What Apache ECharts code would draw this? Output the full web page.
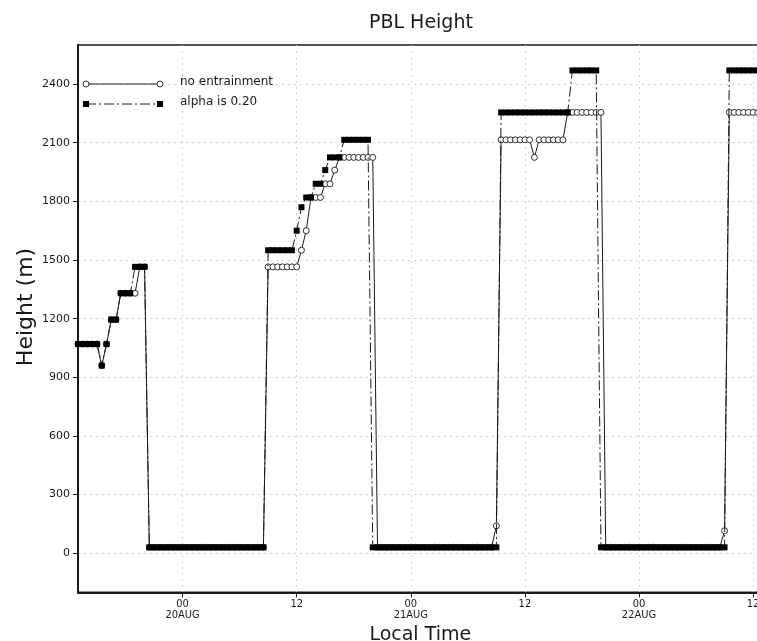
<!DOCTYPE html>
<html><head><meta charset="utf-8">
<script src="https://cdn.jsdelivr.net/npm/echarts@6/dist/echarts.min.js"></script>
<style>html,body{margin:0;padding:0;background:#fff}#c{width:757px;height:641px}</style>
</head><body><div id="c"></div>
<script>
// Local time in hours relative to 20AUG 00
const timeHours = [
  -11,-10.5,-10,-9.5,-9,-8.5,-8,-7.5,-7,-6.5,-6,-5.5,-5,-4.5,-4,-3.5,-3,-2.5,-2,-1.5,-1,-0.5,
  0,0.5,1,1.5,2,2.5,3,3.5,4,4.5,5,5.5,6,6.5,7,7.5,8,8.5,9,9.5,10,10.5,11,11.5,
  12,12.5,13,13.5,14,14.5,15,15.5,16,16.5,17,17.5,18,18.5,19,19.5,20,20.5,21,21.5,22,22.5,23,23.5,
  24,24.5,25,25.5,26,26.5,27,27.5,28,28.5,29,29.5,30,30.5,31,31.5,32,32.5,33,33.5,34,34.5,35,35.5,
  36,36.5,37,37.5,38,38.5,39,39.5,40,40.5,41,41.5,42,42.5,43,43.5,44,44.5,45,45.5,46,46.5,47,47.5,
  48,48.5,49,49.5,50,50.5,51,51.5,52,52.5,53,53.5,54,54.5,55,55.5,56,56.5,57,57.5,58,58.5,59,59.5,
  60,60.5
];
const noEntrainment = [
  1070,1070,1070,1070,1070,960,1070,1195,1195,1330,1330,1330,1330,1465,1465,30,30,30,30,30,30,30,
  30,30,30,30,30,30,30,30,30,30,30,30,30,30,30,30,30,30,1465,1465,1465,1465,1465,1465,
  1465,1550,1650,1820,1820,1820,1890,1890,1960,2025,2025,2025,2025,2025,2025,2025,2025,30,30,30,30,30,30,30,
  30,30,30,30,30,30,30,30,30,30,30,30,30,30,30,30,30,30,140,2115,2115,2115,2115,2115,
  2115,2115,2025,2115,2115,2115,2115,2115,2115,2255,2255,2255,2255,2255,2255,2255,2255,30,30,30,30,30,30,30,
  30,30,30,30,30,30,30,30,30,30,30,30,30,30,30,30,30,30,115,2255,2255,2255,2255,2255,
  2255,2255
];
const alpha020 = [
  1070,1070,1070,1070,1070,960,1070,1195,1195,1330,1330,1330,1465,1465,1465,30,30,30,30,30,30,30,
  30,30,30,30,30,30,30,30,30,30,30,30,30,30,30,30,30,30,1550,1550,1550,1550,1550,1550,
  1650,1770,1820,1820,1890,1890,1960,2025,2025,2025,2115,2115,2115,2115,2115,2115,30,30,30,30,30,30,30,30,
  30,30,30,30,30,30,30,30,30,30,30,30,30,30,30,30,30,30,30,2255,2255,2255,2255,2255,
  2255,2255,2255,2255,2255,2255,2255,2255,2255,2255,2470,2470,2470,2470,2470,2470,30,30,30,30,30,30,30,30,
  30,30,30,30,30,30,30,30,30,30,30,30,30,30,30,30,30,30,30,2470,2470,2470,2470,2470,
  2470,2470
];
const seriesNames = ['no entrainment', 'alpha is 0.20'];
const xTickValues = [0, 12, 24, 36, 48, 60];
const xTickLabels = ['00\n20AUG', '12', '00\n21AUG', '12', '00\n22AUG', '12'];
const yTickValues = [0, 300, 600, 900, 1200, 1500, 1800, 2100, 2400];
const yAxisTitle = 'Height (m)';

const FONT = 'DejaVu Sans';
const INK = '#1a1a1a';
const chart = echarts.init(document.getElementById('c'), null, {renderer: 'canvas'});
const pairs = (vals) => timeHours.map((t, i) => [t, vals[i]]);

chart.setOption({
  animation: false,
  backgroundColor: '#fff',
  title: {
    text: 'PBL Height', left: 364, top: 9,
    textStyle: {fontFamily: FONT, fontSize: 19, fontWeight: 'normal', color: INK}
  },
  grid: {left: 78, top: 45, width: 684.6, height: 547.3, show: true, borderColor: INK, borderWidth: 1.5,
    backgroundColor: 'transparent', outerBoundsMode: 'none', containLabel: false},
  xAxis: {
    type: 'value', min: -11, max: 61,
    name: 'Local Time', nameLocation: 'middle', nameGap: 27,
    nameTextStyle: {fontFamily: FONT, fontSize: 19, color: INK},
    axisLine: {show: true, onZero: false, lineStyle: {color: INK, width: 2}},
    axisTick: {show: true, customValues: xTickValues, length: 5, lineStyle: {color: INK, width: 1}},
    axisLabel: {customValues: xTickValues, margin: 6, fontFamily: 'DejaVu Sans Condensed', fontSize: 11, lineHeight: 11, color: INK,
      formatter: (v) => { const i = xTickValues.indexOf(v); return i >= 0 ? xTickLabels[i] : ''; }},
    splitLine: {show: true, lineStyle: {color: '#d4d4d4', type: [2, 4], width: 1}}
  },
  yAxis: {
    type: 'value', min: -200, max: 2600,
    axisLine: {show: true, onZero: false, lineStyle: {color: INK, width: 2}},
    axisTick: {show: true, customValues: yTickValues, length: 5, lineStyle: {color: INK, width: 1}},
    axisLabel: {customValues: yTickValues, margin: 8, fontFamily: FONT, fontSize: 11, color: INK,
      formatter: (v) => String(v)},
    splitLine: {show: true, lineStyle: {color: '#d4d4d4', type: [2, 4], width: 1}}
  },
  series: [
    {
      name: seriesNames[0], type: 'line', data: pairs(noEntrainment),
      symbol: 'circle', symbolSize: 6, showSymbol: true, showAllSymbol: true,
      lineStyle: {color: INK, width: 1},
      itemStyle: {color: '#fff', borderColor: INK, borderWidth: 0.9},
      z: 2
    },
    {
      name: seriesNames[1], type: 'line', data: pairs(alpha020),
      symbol: 'rect', symbolSize: 6, showSymbol: true, showAllSymbol: true,
      lineStyle: {color: INK, width: 1, type: [10, 3, 2, 3]},
      itemStyle: {color: '#000'},
      z: 3
    }
  ],
  graphic: [
    {type: 'text', x: 26, y: 307, rotation: Math.PI / 2,
      style: {text: yAxisTitle, font: '22px "DejaVu Sans"', fill: INK, align: 'center', verticalAlign: 'middle'}, z: 11},
    {type: 'line', shape: {x1: 86, y1: 84, x2: 160, y2: 84}, style: {stroke: INK, lineWidth: 1}, z: 10},
    {type: 'circle', shape: {cx: 86, cy: 84, r: 3}, style: {fill: '#fff', stroke: INK, lineWidth: 0.9}, z: 11},
    {type: 'circle', shape: {cx: 160, cy: 84, r: 3}, style: {fill: '#fff', stroke: INK, lineWidth: 0.9}, z: 11},
    {type: 'text', x: 180, y: 82, style: {text: seriesNames[0], font: '12px "DejaVu Sans"', fill: INK, verticalAlign: 'middle'}, z: 11},
    {type: 'line', shape: {x1: 86, y1: 104, x2: 160, y2: 104}, style: {stroke: INK, lineWidth: 1, lineDash: [10, 3, 2, 3]}, z: 10},
    {type: 'rect', shape: {x: 83, y: 101, width: 6, height: 6}, style: {fill: '#000'}, z: 11},
    {type: 'rect', shape: {x: 157, y: 101, width: 6, height: 6}, style: {fill: '#000'}, z: 11},
    {type: 'text', x: 180, y: 102, style: {text: seriesNames[1], font: '12px "DejaVu Sans"', fill: INK, verticalAlign: 'middle'}, z: 11}
  ]
});
</script></body></html>
